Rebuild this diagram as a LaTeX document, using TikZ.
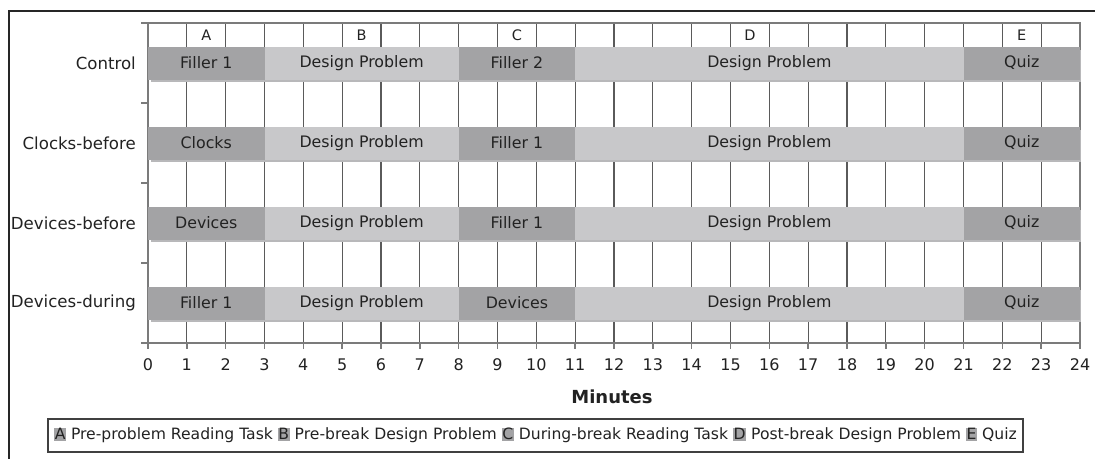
\documentclass[tikz,border=0pt]{standalone}
\usepackage{fontspec}
\setmainfont{DejaVu Sans}
\definecolor{darkbar}{HTML}{A3A3A5}
\definecolor{lightbar}{HTML}{C8C8CA}
\definecolor{gridc}{HTML}{5A5A5A}
\definecolor{txt}{HTML}{222222}
\definecolor{shadowc}{HTML}{B8B8BA}
\newcommand{\legkey}[1]{{\setlength{\fboxsep}{0.6pt}\colorbox{darkbar}{#1}}}
\begin{document}
\begin{tikzpicture}[x=1pt,y=-1pt,
  txtstyle/.style={text=txt,font=\fontsize{15.8}{18}\selectfont},
  rowlabel/.style={txtstyle,font=\fontsize{16.6}{19}\selectfont,anchor=east,inner sep=0pt},
  seg/.style={txtstyle,inner sep=0pt,outer sep=0pt,minimum height=33pt,anchor=center},
  darkseg/.style={seg,fill=darkbar},
  lightseg/.style={seg,fill=lightbar},
  gridline/.style={draw=gridc,line width=1.3pt},
  axisline/.style={draw=gridc!80,line width=1.5pt},
  ticklab/.style={txtstyle,font=\fontsize{16}{18}\selectfont,inner sep=0pt},
  toplab/.style={txtstyle,font=\fontsize{14.5}{16}\selectfont,inner sep=0pt},
  frameline/.style={draw=black!85,line width=2.5pt},
  legendbox/.style={draw=black!75,line width=2pt,minimum width=975pt,minimum height=33pt,inner sep=0pt}
]
\useasboundingbox (0,0) rectangle (1095,459);
\def\u{38.8333}
% outer frame (top and left)
\draw[frameline] (8,11) -- (1095,11);
\draw[frameline] (9,11) -- (9,459);
% vertical grid lines
\foreach \k in {1,...,23} {
  \draw[gridline] ({148+\k*\u},23) -- ({148+\k*\u},343);
}
% plot border
\draw[axisline] (148,23) -- (1080,23) -- (1080,343);
\draw[axisline] (148,23) -- (148,343) -- (1080,343);
% left ticks
\foreach \yy in {23,103,183,263,343} {
  \draw[axisline] (141,\yy) -- (148,\yy);
}
% bottom ticks and labels
\foreach \k in {0,...,24} {
  \draw[axisline] ({148+\k*\u},343) -- ({148+\k*\u},349);
  \node[ticklab] (t\k) at ({148+\k*\u},365) {\k};
}
% top letters
\foreach \n/\pos in {A/1.5,B/5.5,C/9.5,D/15.5,E/22.5} {
  \node[toplab] (top\n) at ({148+\pos*\u},35) {\n};
}
% rows
\foreach \i/\yc/\lab/\sa/\sc in {1/63/Control/Filler 1/Filler 2,
                                 2/143/Clocks-before/Clocks/Filler 1,
                                 3/223/Devices-before/Devices/Filler 1,
                                 4/303/Devices-during/Filler 1/Devices} {
  \node[rowlabel] (lab\i) at (136,\yc) {\lab};
  \fill[shadowc] (151,{\yc-16.5+3}) rectangle (1081,{\yc+16.5+2.5});
  \node[darkseg,minimum width={3*\u}] (s\i a) at ({148+1.5*\u},\yc) {\sa};
  \node[lightseg,minimum width={5*\u}] (s\i b) at ({148+5.5*\u},\yc) {Design Problem};
  \node[darkseg,minimum width={3*\u}] (s\i c) at ({148+9.5*\u},\yc) {\sc};
  \node[lightseg,minimum width={10*\u}] (s\i d) at ({148+16*\u},\yc) {Design Problem};
  \node[darkseg,minimum width={3*\u}] (s\i e) at ({148+22.5*\u},\yc) {Quiz};
}
% axis title
\node[txtstyle,font=\fontsize{18}{20}\selectfont\bfseries] (xtitle) at (612,397) {Minutes};
% legend
\node[legendbox,txtstyle,font=\fontsize{15.6}{17}\selectfont] (legend) at (535.5,435.5)
  {\legkey{A} Pre-problem Reading Task \legkey{B} Pre-break Design Problem \legkey{C} During-break Reading Task \legkey{D} Post-break Design Problem \legkey{E} Quiz};
\end{tikzpicture}
\end{document}
